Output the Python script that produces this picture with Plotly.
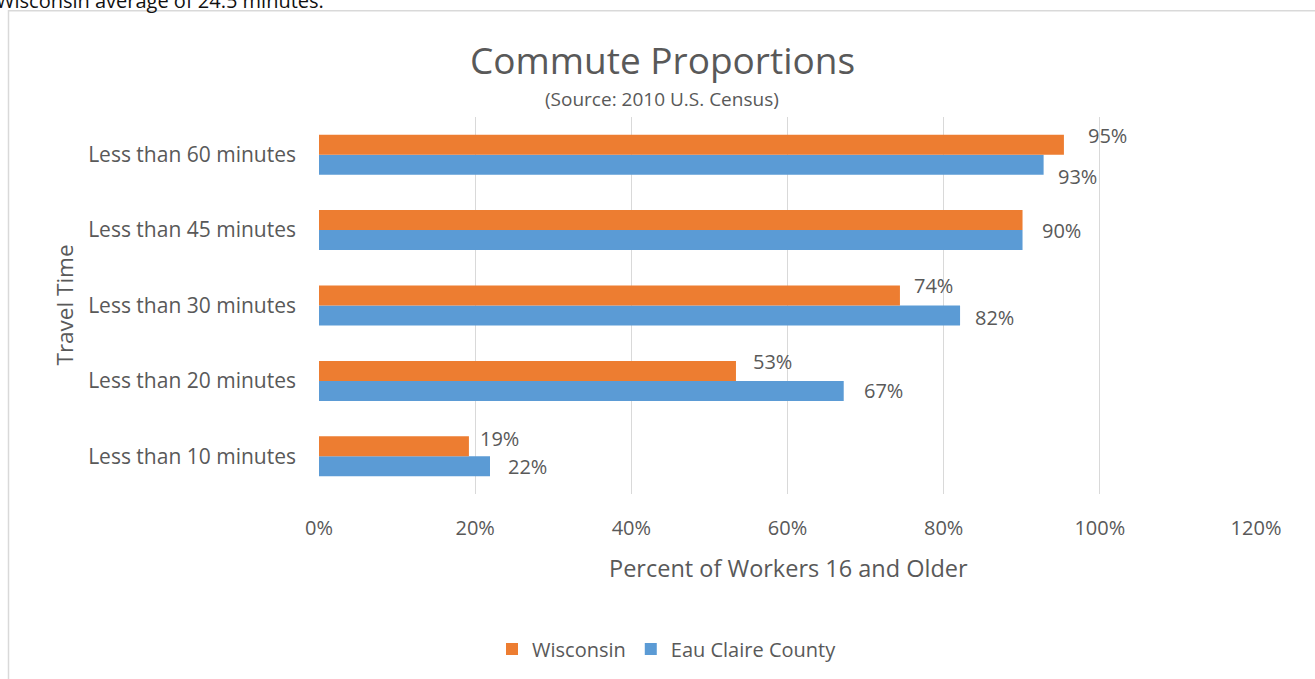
import plotly.graph_objects as go

# Commute time thresholds (bottom to top) and share of workers 16+ under each
categories = [
    "Less than 10 minutes",
    "Less than 20 minutes",
    "Less than 30 minutes",
    "Less than 45 minutes",
    "Less than 60 minutes",
]
wisconsin = [0.192, 0.534, 0.744, 0.901, 0.954]
eau_claire = [0.219, 0.672, 0.821, 0.901, 0.928]
x_ticks = [0, 0.2, 0.4, 0.6, 0.8, 1.0, 1.2]
x_tick_labels = ["0%", "20%", "40%", "60%", "80%", "100%", "120%"]

ORANGE = "#ED7D31"
BLUE = "#5B9BD5"
TEXT = "#595959"
GRID = "#D9D9D9"
FONT = "Open Sans"

# plot area in pixels
W, H = 1315, 679
L, R, T, B = 319, 1256, 117, 495


def px_x(p):
    return (p - L) / (R - L)


def px_y(p):
    return (B - p) / (B - T)


fig = go.Figure()
# Eau Claire first so it sits on the lower half of each category slot
fig.add_trace(go.Bar(
    y=categories, x=eau_claire, name="Eau Claire County", orientation="h",
    marker=dict(color=BLUE, line=dict(width=0)), legendrank=2,
))
fig.add_trace(go.Bar(
    y=categories, x=wisconsin, name="Wisconsin", orientation="h",
    marker=dict(color=ORANGE, line=dict(width=0)), legendrank=1,
))

annotations = []
LABEL_FONT = dict(family=FONT, size=20, color=TEXT)
# value labels placed just past the end of each bar
wi_dy = [8, 9, 10, 0, 9]
ec_dy = [0, 0, -2, 0, -12]
wi_dx = [9, 15, 12, 17, 22]
ec_dx = [16, 18, 13, 17, 12]
for i, cat in enumerate(categories):
    same = round(wisconsin[i] * 100) == round(eau_claire[i] * 100)
    if same:
        annotations.append(dict(
            x=max(wisconsin[i], eau_claire[i]), y=cat, xref="x", yref="y",
            text=f"{round(wisconsin[i] * 100)}%", showarrow=False,
            xanchor="left", yanchor="middle", xshift=wi_dx[i], font=LABEL_FONT,
        ))
        continue
    annotations.append(dict(
        x=wisconsin[i], y=cat, xref="x", yref="y",
        text=f"{round(wisconsin[i] * 100)}%", showarrow=False,
        xanchor="left", yanchor="middle", xshift=wi_dx[i], yshift=10 + wi_dy[i],
        font=LABEL_FONT,
    ))
    annotations.append(dict(
        x=eau_claire[i], y=cat, xref="x", yref="y",
        text=f"{round(eau_claire[i] * 100)}%", showarrow=False,
        xanchor="left", yanchor="middle", xshift=ec_dx[i], yshift=-10 + ec_dy[i],
        font=LABEL_FONT,
    ))

annotations += [
    dict(text="Commute Proportions", x=px_x(662), y=px_y(59), xref="paper", yref="paper",
         showarrow=False, xanchor="center", yanchor="middle",
         font=dict(family=FONT, size=37, color=TEXT)),
    dict(text="(Source: 2010 U.S. Census)", x=px_x(662), y=px_y(99), xref="paper", yref="paper",
         showarrow=False, xanchor="center", yanchor="middle",
         font=dict(family=FONT, size=19, color=TEXT)),
    dict(text="Percent of Workers 16 and Older", x=px_x(788), y=px_y(569), xref="paper",
         yref="paper", showarrow=False, xanchor="center", yanchor="middle",
         font=dict(family=FONT, size=23.5, color=TEXT)),
    dict(text="Travel Time", x=px_x(64), y=px_y(306), xref="paper", yref="paper",
         showarrow=False, xanchor="center", yanchor="middle", textangle=-90,
         font=dict(family=FONT, size=22.5, color=TEXT)),
    dict(text="Wisconsin average of 24.5 minutes.", x=px_x(-6), y=px_y(0), xref="paper",
         yref="paper", showarrow=False, xanchor="left", yanchor="middle",
         font=dict(family=FONT, size=20, color="#111111")),
]

fig.update_layout(
    width=W, height=H,
    margin=dict(l=L, r=W - R, t=T, b=H - B, pad=0),
    paper_bgcolor="white", plot_bgcolor="white",
    barmode="group", bargap=0.47, bargroupgap=0,
    font=dict(family=FONT, color=TEXT, size=20),
    showlegend=True,
    legend=dict(orientation="h", x=px_x(667), y=px_y(649), xanchor="center",
                yanchor="middle", font=dict(family=FONT, size=20, color=TEXT),
                itemwidth=30, traceorder="normal"),
    annotations=annotations,
    shapes=[dict(type="rect", xref="paper", yref="paper",
                 x0=px_x(8.5), x1=px_x(1330), y0=px_y(10.5), y1=px_y(700),
                 line=dict(color=GRID, width=1.5), fillcolor="rgba(0,0,0,0)",
                 layer="below")],
    xaxis=dict(range=[0, 1.2], tickvals=x_ticks, ticktext=x_tick_labels,
               showgrid=True, gridcolor=GRID, gridwidth=1, zeroline=False,
               showline=False, ticks="", ticklabelstandoff=20,
               tickfont=dict(family=FONT, size=20, color=TEXT), fixedrange=True),
    yaxis=dict(categoryorder="array", categoryarray=categories, showgrid=False,
               zeroline=False, showline=False, ticks="", ticklabelstandoff=22,
               tickfont=dict(family=FONT, size=21, color=TEXT), fixedrange=True),
)

fig.write_html("out.html", config={"displayModeBar": False})
